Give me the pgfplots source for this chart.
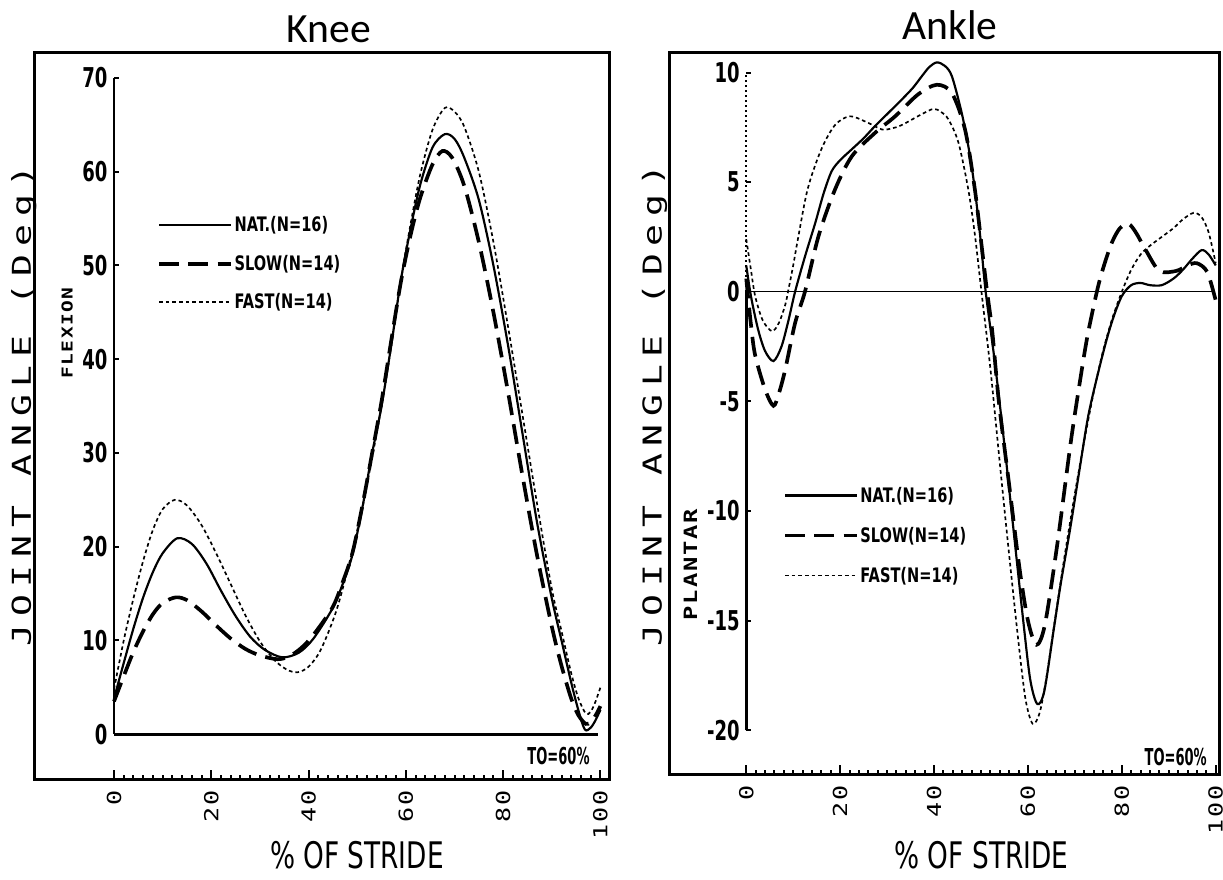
\documentclass[border=0pt]{standalone}
\usepackage{pgfplots}
\pgfplotsset{compat=1.18}
\usepackage{fontspec}
\newfontfamily\titlefont{Carlito}
\newfontfamily\jfont[FakeStretch=1.4,LetterSpace=30]{DejaVu Sans Mono}
\newfontfamily\xtfont[FakeStretch=1.3,LetterSpace=10]{DejaVu Sans Mono}
\newfontfamily\ytfont[FakeStretch=0.66]{DejaVu Sans}
\newfontfamily\lgfont[FakeStretch=0.73]{DejaVu Sans}
\newfontfamily\tofont[FakeStretch=0.56]{DejaVu Sans}
\newfontfamily\stfont[FakeStretch=0.72]{DejaVu Sans}

% knee (flexion) curves, % of stride vs degrees
\pgfplotstableread{
x y
0 3.8
2 7.6
4 11.3
6 14.6
8 17.3
10 19.3
13 20.9
16 20.3
19 18.2
22 15.3
25 12.6
28 10.4
31 9.0
34.6 8.2
38 8.7
41 10.2
44.9 13.4
47 16
49 19.1
51 24
53 29.8
55 35
57 41.5
59 48.5
61 54
63 58.7
65.5 62.6
68 64
70 63.5
72 61.5
75 57
78 50
81 41.5
84 32
87 22.5
90 14.5
92 10
94 5.5
95.5 2.5
96.8 0.5
98 0.7
99 1.5
100 2.6
}\kneenat
\pgfplotstableread{
x y
0 3.5
2 6.2
4 8.8
6 11
8 12.8
10 14
12.7 14.6
15 14.3
18 13.1
21 11.6
24 10.2
27 9.1
30 8.4
33.6 8.0
36 8.3
38.5 9.2
41 10.6
44.9 13.5
47 16.2
49 19.3
51 24.2
53 29.8
55 35.5
57 42
59 48.3
61 53.3
63 57.3
65.5 60.8
67.5 62.2
69.5 61.5
72 58.5
75 52.5
78 45
81 36.5
84 27.5
87 19
90 11.5
92 7.3
94 3.8
95.5 2
97 1.1
98 1.3
99 2
100 3
}\kneeslow
\pgfplotstableread{
x y
0 4.8
2 10
4 14.5
6 18.5
8 21.8
10 24
12.5 25
15 24.4
18 22.3
21 19.3
24 16
27 12.7
30 9.9
33 7.9
35.5 6.9
37.7 6.6
40 7.2
42.5 9
45.6 13
48 17.5
51 24
53 29.3
55 35
57 41.5
59 48.5
61 54.5
63 59.8
65.5 64.5
68 66.8
70 66.4
72 64.8
75 60
78 52.5
81 43.5
84 34
87 24.5
90 15.5
92 11
94 6.5
95.5 3.8
97 2.2
98 2.4
99 3.5
100 5
}\kneefast

% ankle (plantar/dorsi) curves
\pgfplotstableread{
x y
0 1.2
1 -0.2
2.5 -1.7
4 -2.7
5.8 -3.16
7.5 -2.5
9 -1.3
10.4 0
12.5 1.6
14.7 3.14
16.5 4.5
18.2 5.5
20 6.0
22.5 6.5
25 7.0
27.4 7.55
30 8.1
33.1 8.76
35.5 9.3
37.4 9.83
39 10.25
40.6 10.46
42.3 10.3
43.8 9.83
45.9 8.15
47.5 6.4
48.7 4.66
50 2.2
51 0
53 -3.3
55 -7
57 -11
59 -15
60.5 -17.7
62 -18.8
63.5 -18.2
65.5 -15.4
67 -13.3
69 -10.8
71 -8.1
73 -5.5
76 -2.8
78 -1.3
80 -0.2
82 0.3
84 0.4
86 0.3
88.5 0.3
91 0.6
93 1.0
95 1.5
97 1.9
98.5 1.7
100 1.2
}\anklenat
\pgfplotstableread{
x y
0 0.6
1 -1.5
1.9 -2.9
4 -4.45
5.8 -5.2
7 -4.6
8.3 -3.55
10.4 -1.43
12.5 0
15.4 2.54
18.9 4.66
22.5 6.18
27.4 7.24
31.7 8.0
36.6 9.0
40.6 9.44
43.8 9.06
46.6 7.4
48.7 4.66
50.3 1.8
51.3 0
52.4 -1.8
53.8 -5
56 -8.8
58.2 -12.6
60 -15
61.8 -16.1
63.6 -15.2
66.2 -11.6
69.1 -6.9
71 -4.2
72.7 -2.0
74.9 0.2
76.5 1.4
78 2.3
79.6 2.9
81.4 3.1
83 2.7
85.1 1.9
88 0.95
91.6 0.95
94 1.2
96 1.3
98.2 0.9
100 -0.4
}\ankleslow
\pgfplotstableread{
x y
0 2.4
1 1.0
1.9 -0.2
3.5 -1.3
5.5 -1.8
7 -1.4
8.3 -0.6
8.9 0
10 1.2
11 2.4
13.1 4.7
16 6.5
18.9 7.6
22.1 8.0
26 7.7
28.9 7.4
31 7.45
33.1 7.6
37.4 8.1
39.9 8.34
41.5 8.2
43.1 7.85
45.2 6.8
47.3 4.66
48.7 2.6
50.1 0
52 -3.5
54 -7.8
56 -12
58 -16
59.5 -18.6
61 -19.7
62.5 -19.2
64 -17.5
66 -14.6
68 -11.8
70 -9.2
72 -6.8
74 -4.6
76 -2.7
78 -1.2
80 0
82 1
84 1.7
86 2.1
88.5 2.5
91 2.9
93 3.3
95.3 3.6
97 3.4
98.5 2.7
100 1.3
}\anklefast

\pgfplotsset{
  frame/.style={
    scale only axis,
    clip mode=individual,
    axis line style={line width=0.9pt},
    xtick={0,20,...,100},
    minor xtick={2,4,...,98},
    xtick pos=left,
    ytick=\empty,
    tick align=inside,
    major tick length=2.6pt,
    minor tick length=1.3pt,
    every tick/.style={black, line width=0.6pt},
    /pgf/number format/assume math mode=true,
    xticklabel style={font=\fontsize{5.8}{6}\selectfont\xtfont, yshift=-3.3pt, rotate=90, anchor=east, inner sep=0pt},
    xlabel={\% OF STRIDE},
    ylabel={JOINT ANGLE (Deg)},
    legend cell align=left,
    legend image code/.code={\draw[##1] (0pt,0pt) -- (21.6pt,0pt);},
  },
  inner/.style={
    scale only axis,
    clip=false,
    axis x line=none,
    axis y line=left,
    y axis line style={line width=0.8pt,-},
    tick align=inside,
    major tick length=1.5pt,
    every tick/.style={black, line width=0.6pt},
    xmin=0, xmax=100,
    /pgf/number format/assume math mode=true,
    yticklabel style={font=\fontsize{8.2}{8}\selectfont\ytfont\bfseries, inner sep=0pt, xshift=-1.8pt},
  },
  nat/.style={black, line width=0.65pt, smooth},
  slow/.style={black, line width=1.1pt, dash pattern=on 6pt off 2.8pt, smooth},
  fast/.style={black, line width=0.5pt, dash pattern=on 1.1pt off 0.9pt, smooth},
}

\begin{document}
\begin{tikzpicture}
% ---------------- Knee ----------------
\begin{axis}[frame, name=knee, at={(0pt,0pt)}, anchor=south west,
  width=172.8pt, height=218.1pt,
  xmin=-16.43, xmax=101.85, ymin=-4.79, ymax=72.66,
  xlabel style={font=\fontsize{11}{11}\selectfont\stfont, at={(rel axis cs:0.561,0)}, yshift=-22.8pt, anchor=center},
  ylabel style={font=\fontsize{7.8}{8}\selectfont\jfont, at={(rel axis cs:-0.018,0.514)}, anchor=center},
  legend style={draw=none, fill=none, inner sep=0pt, outer sep=0pt,
    at={(axis cs:8.9,55.35)}, anchor=north west, row sep=5.55pt, column sep=0.5pt,
    font=\fontsize{6}{6}\selectfont\lgfont\bfseries,
    nodes={inner sep=0pt, text height=5pt, text depth=1pt}},
]
\addplot[black, line width=0.8pt, forget plot] coordinates {(0,0) (99.6,0)};
\addplot[nat] table {\kneenat};
\addplot[slow] table {\kneeslow};
\addplot[fast] table {\kneefast};
\legend{NAT.(N=16),SLOW(N=14),FAST(N=14)}
\coordinate (kO) at (axis cs:0,0);
\node[font=\fontsize{12.5}{13}\selectfont\titlefont, anchor=base, yshift=3pt] at (rel axis cs:0.512,1) {Knee};
\node[font=\fontsize{7}{7}\selectfont\tofont\bfseries, anchor=east] at (axis cs:100.2,-2.34) {TO=60\%};
\node[font=\fontsize{4.5}{5}\selectfont\xtfont\bfseries, rotate=90] at (axis cs:-9.65,42.8) {FLEXION};
\end{axis}
\begin{axis}[inner, at={(kO)}, anchor=south west,
  width=146pt, height=197.1pt, ymin=0, ymax=70, ytick={0,10,...,70}]
\end{axis}

% ---------------- Ankle ----------------
\begin{axis}[frame, name=ankle, at={(190.8pt,1.5pt)}, anchor=south west,
  width=165.3pt, height=216.6pt,
  xmin=-16.38, xmax=100.85, ymin=-22.0, ymax=10.89,
  xlabel style={font=\fontsize{11}{11}\selectfont\stfont, at={(rel axis cs:0.567,0)}, yshift=-24.3pt, anchor=center},
  ylabel style={font=\fontsize{7.8}{8}\selectfont\jfont, at={(rel axis cs:-0.027,0.511)}, anchor=center},
  legend style={draw=none, fill=none, inner sep=0pt, outer sep=0pt,
    at={(axis cs:7.87,-8.84)}, anchor=north west, row sep=6pt, column sep=0.5pt,
    font=\fontsize{6}{6}\selectfont\lgfont\bfseries,
    nodes={inner sep=0pt, text height=5pt, text depth=1pt}},
]
\addplot[black, line width=0.45pt, forget plot] coordinates {(0,0) (99.6,0)};
\addplot[nat] table {\anklenat};
\addplot[slow] table {\ankleslow};
\addplot[fast] table {\anklefast};
\legend{NAT.(N=16),SLOW(N=14),FAST(N=14)}
\coordinate (aO) at (axis cs:0,-20);
\node[font=\fontsize{12.5}{13}\selectfont\titlefont, anchor=base, yshift=3.9pt] at (rel axis cs:0.51,1) {Ankle};
\node[font=\fontsize{7}{7}\selectfont\tofont\bfseries, anchor=east] at (axis cs:100.6,-21.2) {TO=60\%};
\node[font=\fontsize{5.5}{6}\selectfont\xtfont\bfseries, rotate=90] at (axis cs:-11.9,-12.44) {PLANTAR};
\end{axis}
\begin{axis}[inner, at={(aO)}, anchor=south west,
  width=141pt, height=197.55pt, ymin=-20, ymax=10, ytick={-20,-15,...,10},
  y axis line style={draw=none}]
\addplot[black, line width=0.8pt] coordinates {(0,-20) (0,0)};
\addplot[black, line width=0.5pt, densely dotted] coordinates {(0,0) (0,10)};
\end{axis}

\path (-9.9pt,-28.8pt) rectangle (357pt,233.1pt);
\end{tikzpicture}
\end{document}
